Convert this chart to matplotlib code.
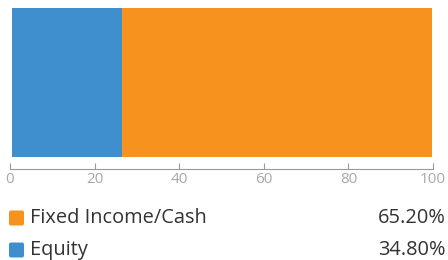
import matplotlib.pyplot as plt
from matplotlib.patches import FancyBboxPatch

# allocation values as drawn in the bar
categories = ["Equity", "Fixed Income/Cash"]
bar_values = [26.0, 73.3]
colors = ["#3f8fcf", "#f7921e"]

# legend rows (top to bottom)
legend_labels = ["Fixed Income/Cash", "Equity"]
legend_values = ["65.20%", "34.80%"]
legend_colors = ["#f7921e", "#3f8fcf"]

ticks = [0, 20, 40, 60, 80, 100]

plt.rcParams["font.family"] = ["Open Sans", "DejaVu Sans"]

fig = plt.figure(figsize=(4.48, 2.60), dpi=100)
W, H = 448, 260

# bar axes: x 10..433 px, y 8..169 px from top
ax = fig.add_axes([10 / W, 1 - 169 / H, 423 / W, 161 / H])
left = 0.5
for val, col in zip(bar_values, colors):
    ax.barh(0.537, val, left=left, height=0.926, color=col)
    left += val
ax.set_xlim(0, 100)
ax.set_ylim(0, 1)
ax.set_xticks(ticks)
ax.set_yticks([])
for s in ["top", "left", "right"]:
    ax.spines[s].set_visible(False)
ax.spines["bottom"].set_color("#999999")
ax.tick_params(axis="x", direction="in", length=4, color="#999999",
               labelcolor="#a8a8a8", labelsize=11, pad=2)

# legend axes in pixel coordinates
lax = fig.add_axes([0, 0, 1, 1 - 190 / H])
lax.set_xlim(0, W)
lax.set_ylim(260 - 190, 0)
lax.axis("off")
for i, (lab, val, col) in enumerate(zip(legend_labels, legend_values, legend_colors)):
    yc = 28 + 32 * i
    lax.add_patch(FancyBboxPatch((9, yc - 7.5), 15, 15,
                                 boxstyle="round,pad=0,rounding_size=2",
                                 facecolor=col, edgecolor="none"))
    lax.text(30, yc, lab, fontsize=14.4, color="#333333", va="center", ha="left")
    lax.text(446, yc, val, fontsize=14.4, color="#333333", va="center", ha="right")

fig.savefig("out.png", dpi=100)
